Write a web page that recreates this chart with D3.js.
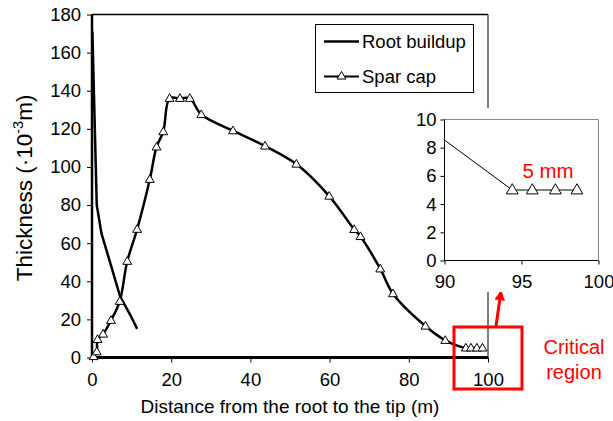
<!DOCTYPE html>
<html>
<head>
<meta charset="utf-8">
<script src="https://cdn.jsdelivr.net/npm/d3@7"></script>
<style>
  body { margin: 0; background: #fff; }
  svg text { font-family: "Liberation Sans", Arial, sans-serif; fill: #000; }
</style>
</head>
<body>
<svg id="chart" width="613" height="421"></svg>
<script>
// Spar cap thickness along the blade (distance in m, thickness in 10^-3 m)
const sparX = [0.4, 1.2, 1.4, 2.8, 4.8, 7.0, 8.9, 11.4, 14.6, 16.3, 18.0, 19.6, 22.2, 24.7, 27.6, 35.6, 43.7, 51.6, 59.9, 66.2, 67.8, 72.8, 76.0, 84.2, 89.2, 94.4, 95.7, 97.2, 98.6];
const sparY = [0.5, 3.0, 9.5, 12.3, 19.5, 29.5, 50.5, 67.3, 93.5, 110.5, 118.5, 136, 136, 136, 127.5, 119, 111, 101.5, 84.7, 67.2, 63.5, 46.5, 33.5, 16.5, 9.0, 5, 5, 5, 5];

// Root buildup thickness near the root
const rootX = [0.1, 1.2, 2.4, 4.9, 7.1, 9.9, 11.4];
const rootY = [171, 80, 65, 47.6, 32, 21.4, 15];

// Tip detail shown in the inset
const tipX = [90, 94.4, 95.7, 97.2, 98.6];
const tipY = [8.54, 5, 5, 5, 5];
const tipMarked = [false, true, true, true, true];

const xTicks = [0, 20, 40, 60, 80, 100];
const yTicks = [0, 20, 40, 60, 80, 100, 120, 140, 160, 180];
const insetXTicks = [90, 95, 100];
const insetYTicks = [0, 2, 4, 6, 8, 10];

const svg = d3.select("#chart");
const FONT = "Liberation Sans, Arial, sans-serif";

// ---------- main plot ----------
const x = d3.scaleLinear().domain([0, 100]).range([92, 488]);
const y = d3.scaleLinear().domain([0, 180]).range([357.5, 14.5]);

// frame: thin top and right edges
svg.append("line").attr("x1", x(0)).attr("x2", x(100)).attr("y1", y(180)).attr("y2", y(180))
  .attr("stroke", "#000").attr("stroke-width", 1.5);
svg.append("line").attr("x1", x(100)).attr("x2", x(100)).attr("y1", y(180)).attr("y2", y(0))
  .attr("stroke", "#000").attr("stroke-width", 1);

const xAxis = svg.append("g").attr("transform", `translate(0,${y(0)})`)
  .call(d3.axisBottom(x).tickValues(xTicks).tickSize(5).tickPadding(10).tickFormat(d3.format("d")));
xAxis.select(".domain").attr("stroke-width", 3).attr("d", `M${x(0)},0H${x(100)}`);
xAxis.selectAll(".tick line").attr("stroke-width", 1);
xAxis.selectAll(".tick text").attr("font-size", 18.5).style("font-family", FONT);

const yAxis = svg.append("g").attr("transform", `translate(${x(0)},0)`)
  .call(d3.axisLeft(y).tickValues(yTicks).tickSize(5).tickPadding(6).tickFormat(d3.format("d")));
yAxis.select(".domain").attr("stroke-width", 2.5).attr("d", `M0,${y(0)}V${y(180)}`);
yAxis.selectAll(".tick line").attr("stroke-width", 1);
yAxis.selectAll(".tick text").attr("font-size", 18.5).style("font-family", FONT);

// axis titles
svg.append("text").attr("x", x(50)).attr("y", 413).attr("text-anchor", "middle")
  .attr("font-size", 19).text("Distance from the root to the tip (m)");
const yt = svg.append("text").attr("transform", `translate(32,${y(89)}) rotate(-90)`)
  .attr("text-anchor", "middle").attr("font-size", 22.5);
yt.append("tspan").text("Thickness (·10");
yt.append("tspan").attr("dy", -9).attr("font-size", 14.5).text("-3");
yt.append("tspan").attr("dy", 9).text("m)");

// curves
const smooth = d3.line().x(d => x(d[0])).y(d => y(d[1])).curve(d3.curveCatmullRom.alpha(0.5));
const straight = d3.line().x(d => x(d[0])).y(d => y(d[1]));
const rootData = rootX.map((v, i) => [v, rootY[i]]);
const sparData = sparX.map((v, i) => [v, sparY[i]]);

svg.append("path").datum(rootData).attr("d", straight)
  .attr("fill", "none").attr("stroke", "#000").attr("stroke-width", 2.5).attr("stroke-linejoin", "round");
svg.append("path").datum(sparData).attr("d", smooth)
  .attr("fill", "none").attr("stroke", "#000").attr("stroke-width", 2.5);

const tri = d3.symbol().type(d3.symbolTriangle);
svg.append("g").selectAll("path").data(sparData).join("path")
  .attr("transform", d => `translate(${x(d[0])},${y(d[1]) + 0.5})`)
  .attr("d", tri.size(34)())
  .attr("fill", "#fff").attr("stroke", "#000").attr("stroke-width", 1);

// ---------- legend ----------
const lg = svg.append("g");
lg.append("rect").attr("x", 315.5).attr("y", 24.5).attr("width", 158).attr("height", 68)
  .attr("fill", "#fff").attr("stroke", "#000").attr("stroke-width", 1);
lg.append("line").attr("x1", 324).attr("x2", 359).attr("y1", 41.5).attr("y2", 41.5)
  .attr("stroke", "#000").attr("stroke-width", 2.5);
lg.append("text").attr("x", 362).attr("y", 48).attr("font-size", 18.5).text("Root buildup");
lg.append("line").attr("x1", 324).attr("x2", 359).attr("y1", 76.5).attr("y2", 76.5)
  .attr("stroke", "#000").attr("stroke-width", 2);
lg.append("path").attr("transform", "translate(341.5,76.5)").attr("d", tri.size(34)())
  .attr("fill", "#fff").attr("stroke", "#000").attr("stroke-width", 1);
lg.append("text").attr("x", 362).attr("y", 83).attr("font-size", 18.5).text("Spar cap");

// ---------- critical region marker ----------
svg.append("rect").attr("x", 454).attr("y", 327).attr("width", 68).attr("height", 62)
  .attr("fill", "none").attr("stroke", "#f00").attr("stroke-width", 3);
svg.append("defs").append("marker").attr("id", "arrow").attr("viewBox", "0 0 10 10")
  .attr("refX", 5).attr("refY", 5).attr("markerWidth", 3.5).attr("markerHeight", 3.5)
  .attr("orient", "auto")
  .append("path").attr("d", "M0,0L10,5L0,10Z").attr("fill", "#f00");
svg.append("line").attr("x1", 496).attr("y1", 326).attr("x2", 500.5).attr("y2", 295)
  .attr("stroke", "#f00").attr("stroke-width", 3).attr("marker-end", "url(#arrow)");
svg.append("text").attr("x", 574).attr("y", 354).attr("text-anchor", "middle")
  .attr("font-size", 20).style("fill", "#f00").text("Critical");
svg.append("text").attr("x", 574).attr("y", 379).attr("text-anchor", "middle")
  .attr("font-size", 20).style("fill", "#f00").text("region");

// ---------- inset ----------
const ix = d3.scaleLinear().domain([90, 100]).range([444.5, 598.5]);
const iy = d3.scaleLinear().domain([0, 10]).range([260.5, 119.5]);

svg.append("rect").attr("x", 405).attr("y", 108).attr("width", 208).attr("height", 184).attr("fill", "#fff");
svg.append("line").attr("x1", ix(90)).attr("x2", ix(100)).attr("y1", iy(10)).attr("y2", iy(10))
  .attr("stroke", "#888").attr("stroke-width", 1);
svg.append("line").attr("x1", ix(100)).attr("x2", ix(100)).attr("y1", iy(10)).attr("y2", iy(0))
  .attr("stroke", "#888").attr("stroke-width", 1);

const ixAxis = svg.append("g").attr("transform", `translate(0,${iy(0)})`)
  .call(d3.axisBottom(ix).tickValues(insetXTicks).tickSize(4).tickPadding(10).tickFormat(d3.format("d")));
ixAxis.select(".domain").attr("stroke-width", 1).attr("d", `M${ix(90)},0H${ix(100)}`);
ixAxis.selectAll(".tick text").attr("font-size", 18.5).style("font-family", FONT);

const iyAxis = svg.append("g").attr("transform", `translate(${ix(90)},0)`)
  .call(d3.axisLeft(iy).tickValues(insetYTicks).tickSize(4).tickPadding(4).tickFormat(d3.format("d")));
iyAxis.select(".domain").attr("stroke-width", 1).attr("d", `M0,${iy(0)}V${iy(10)}`);
iyAxis.selectAll(".tick text").attr("font-size", 18.5).style("font-family", FONT);

const tipData = tipX.map((v, i) => [v, tipY[i], tipMarked[i]]);
svg.append("path").datum(tipData)
  .attr("d", d3.line().x(d => ix(d[0])).y(d => iy(d[1])))
  .attr("fill", "none").attr("stroke", "#000").attr("stroke-width", 1);
svg.append("g").selectAll("path").data(tipData.filter(d => d[2])).join("path")
  .attr("transform", d => `translate(${ix(d[0])},${iy(d[1]) + 0.5})`)
  .attr("d", tri.size(60)())
  .attr("fill", "#fff").attr("stroke", "#000").attr("stroke-width", 1);

svg.append("text").attr("x", 548).attr("y", 178).attr("text-anchor", "middle")
  .attr("font-size", 20.5).style("fill", "#f00").text("5 mm");
</script>
</body>
</html>
